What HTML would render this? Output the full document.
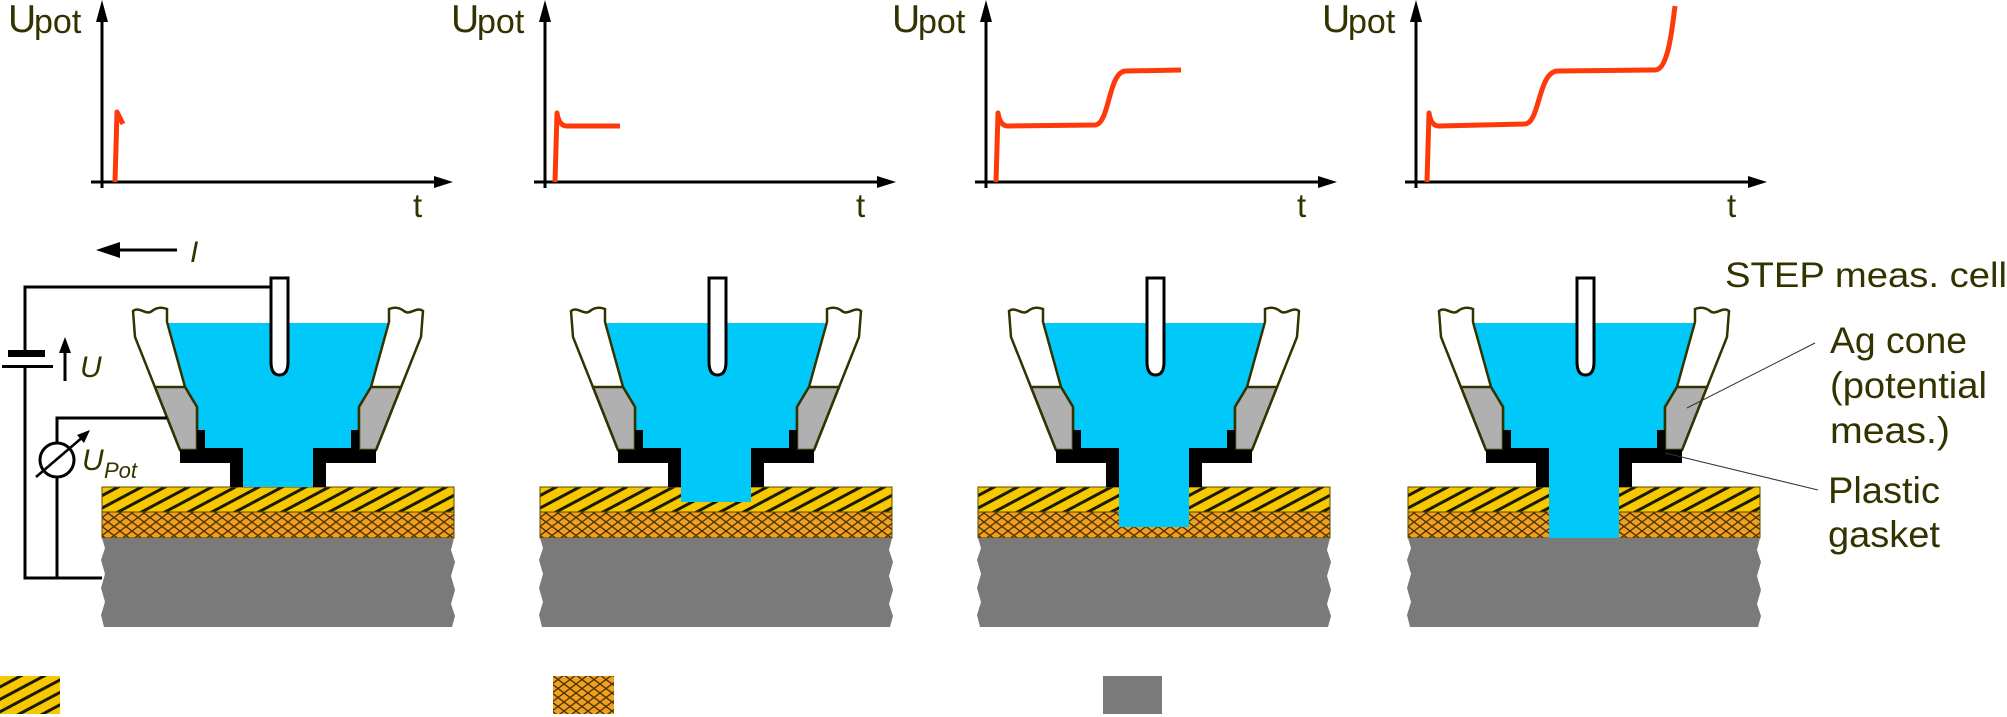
<!DOCTYPE html>
<html><head><meta charset="utf-8"><style>
html,body{margin:0;padding:0;background:#fff;}
svg{display:block;}
text{font-family:"Liberation Sans",sans-serif;fill:#333300;}
</style></head><body>
<svg width="2007" height="717" viewBox="0 0 2007 717" xmlns="http://www.w3.org/2000/svg">
<defs>
<pattern id="stripe" patternUnits="userSpaceOnUse" width="40" height="11" patternTransform="rotate(-28)">
<rect width="40" height="11" fill="#f7c800"/>
<rect y="0" width="40" height="3" fill="#1a1a00"/>
</pattern>
<pattern id="cross" patternUnits="userSpaceOnUse" width="12" height="9">
<rect width="12" height="9" fill="#f0a020"/>
<path d="M0,0 L12,9 M12,0 L0,9" stroke="#4a3000" stroke-width="1.3"/>
</pattern>
<g id="cone">
<path d="M168,323 L388,323 L371,387 L359,407 L359,430 L351,430 L351,448 L313,448 L313,487 L243,487 L243,448 L205,448 L205,430 L197,430 L197,407 L185,387 Z" fill="#00c8f8"/>
<path d="M133,311 C140,306 146,316 152,311 C157,307 162,307 167,309 L167,322 L185,387 L197,407 L197,450 L180,450 L135,337 Z" fill="#fff" stroke="#333300" stroke-width="2.5"/>
<path d="M155,387 L185,387 L197,407 L197,450 L180,450 Z" fill="#b0b0b0" stroke="#333300" stroke-width="2.5"/>
<path d="M423,311 C416,306 410,316 404,311 C399,307 394,307 389,309 L389,322 L371,387 L359,407 L359,450 L376,450 L421,337 Z" fill="#fff" stroke="#333300" stroke-width="2.5"/>
<path d="M401,387 L371,387 L359,407 L359,450 L376,450 Z" fill="#b0b0b0" stroke="#333300" stroke-width="2.5"/>
<path d="M197,430 L205,430 L205,448 L243,448 L243,487 L230,487 L230,463 L180,463 L180,450 L197,450 Z" fill="#000"/>
<path d="M359,430 L351,430 L351,448 L313,448 L313,487 L326,487 L326,463 L376,463 L376,450 L359,450 Z" fill="#000"/>
<path d="M271,278 L288,278 L288,362 Q288,375 279.5,375 Q271,375 271,362 Z" fill="#fff" stroke="#000" stroke-width="3"/>
</g>
<g id="layers">
<rect x="102" y="487" width="352" height="25" fill="url(#stripe)" stroke="#5a4a00" stroke-width="1"/>
<rect x="102" y="512" width="352" height="26" fill="url(#cross)" stroke="#5a4a00" stroke-width="1"/>
<path d="M102,538 L454,538 L451,550 L455,562 L451,576 L455,590 L451,604 L455,616 L452,627 L104,627 L101,615 L105,602 L101,588 L105,574 L101,560 L105,548 Z" fill="#7a7a7a"/>
</g>
<g id="axes">
<line x1="102" y1="8" x2="102" y2="188" stroke="#000" stroke-width="3"/>
<path d="M96,22 L102,0 L108,22 Z" fill="#000"/>
<line x1="91" y1="182" x2="438" y2="182" stroke="#000" stroke-width="3"/>
<path d="M434,176 L453,182 L434,188 Z" fill="#000"/>
<text x="8" y="32" font-size="39">U</text>
<text x="34" y="33" font-size="34">pot</text>
<text x="413" y="217" font-size="33">t</text>
</g>
</defs>

<use href="#axes"/>
<path d="M115,182 L117,112 L123,124" fill="none" stroke="#ff3a0a" stroke-width="5" stroke-linejoin="round"/>
<use href="#axes" transform="translate(443,0)"/>
<path d="M555,182 L557,113 Q559,126 567,126 L620,126" fill="none" stroke="#ff3a0a" stroke-width="5" stroke-linejoin="round"/>
<use href="#axes" transform="translate(884,0)"/>
<path d="M996,182 L998,113 Q1000,126 1008,126 L1095,125 C1110,124 1108,71 1126,71 L1181,70" fill="none" stroke="#ff3a0a" stroke-width="5" stroke-linejoin="round"/>
<use href="#axes" transform="translate(1314,0)"/>
<path d="M1427,182 L1429,113 Q1431,126 1439,126 L1525,124 C1540,123 1538,71 1558,71 L1655,70 C1668,70 1672,30 1675,6" fill="none" stroke="#ff3a0a" stroke-width="5" stroke-linejoin="round"/>

<g><use href="#layers"/><use href="#cone"/></g>
<g transform="translate(438,0)"><use href="#layers"/><use href="#cone"/>
<rect x="243" y="486" width="70" height="16" fill="#00c8f8"/></g>
<g transform="translate(876,0)"><use href="#layers"/><use href="#cone"/>
<rect x="243" y="486" width="70" height="41" fill="#00c8f8"/></g>
<g transform="translate(1306,0)"><use href="#layers"/><use href="#cone"/>
<rect x="243" y="486" width="70" height="52" fill="#00c8f8"/></g>

<g stroke="#000" stroke-width="3" fill="none">
<polyline points="271,287 25,287 25,352"/>
<polyline points="25,366 25,578 102,578"/>
<polyline points="167,418 57,418 57,443"/>
<line x1="57" y1="477" x2="57" y2="578"/>
<circle cx="57" cy="460" r="17"/>
<line x1="177" y1="250" x2="112" y2="250"/>
<line x1="65" y1="381" x2="65" y2="350"/>
</g>
<rect x="8" y="350" width="37" height="7" fill="#000"/>
<rect x="2" y="365" width="51" height="3" fill="#000"/>
<path d="M96,250 L120,242 L120,258 Z" fill="#000"/>
<path d="M65,337 L59,353 L71,353 Z" fill="#000"/>
<line x1="36" y1="477" x2="84" y2="436" stroke="#000" stroke-width="2.5"/>
<path d="M90,430 L77,435 L84,443 Z" fill="#000"/>
<text x="190" y="262" font-size="30" font-style="italic">I</text>
<text x="80" y="377" font-size="30" font-style="italic">U</text>
<text x="82" y="470" font-size="30" font-style="italic">U</text><text x="104" y="478" font-size="22" font-style="italic">Pot</text>

<text x="1725" y="287" font-size="35" textLength="282" lengthAdjust="spacingAndGlyphs">STEP meas. cell</text>
<text x="1830" y="353" font-size="37" textLength="137" lengthAdjust="spacingAndGlyphs">Ag cone</text>
<text x="1830" y="398" font-size="37" textLength="157" lengthAdjust="spacingAndGlyphs">(potential</text>
<text x="1830" y="443" font-size="37" textLength="120" lengthAdjust="spacingAndGlyphs">meas.)</text>
<text x="1828" y="503" font-size="37" textLength="112" lengthAdjust="spacingAndGlyphs">Plastic</text>
<text x="1828" y="547" font-size="37" textLength="112" lengthAdjust="spacingAndGlyphs">gasket</text>
<line x1="1815" y1="343" x2="1687" y2="408" stroke="#333" stroke-width="1"/>
<line x1="1818" y1="490" x2="1665" y2="453" stroke="#333" stroke-width="1"/>

<rect x="0" y="676" width="60" height="38" fill="url(#stripe)"/>
<rect x="553" y="676" width="61" height="38" fill="url(#cross)"/>
<rect x="1103" y="676" width="59" height="38" fill="#7a7a7a"/>
</svg>
</body></html>
